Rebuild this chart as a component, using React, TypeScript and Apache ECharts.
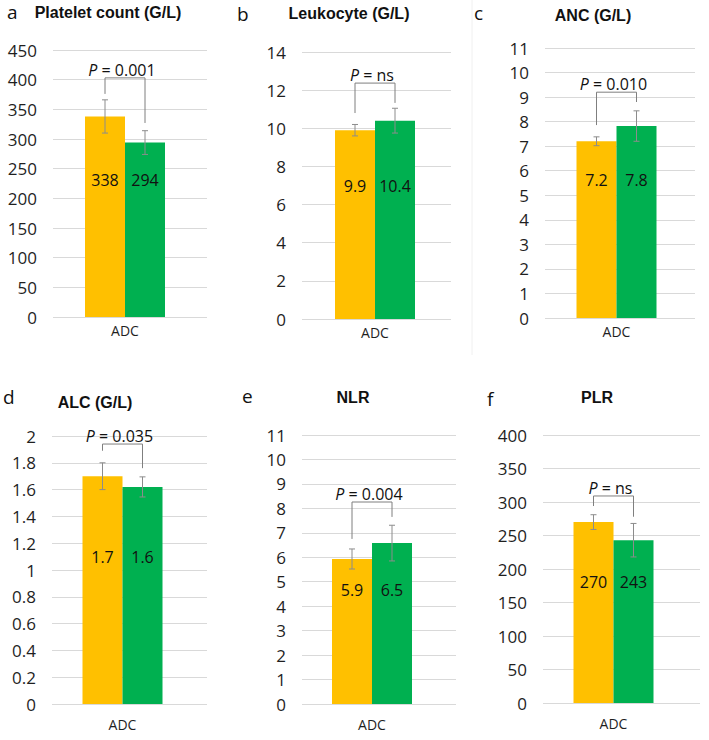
import React, { useEffect, useRef } from "react";
import * as echarts from "echarts";

// ---- data ----
const categories = ["ADC"];
const panelLetters = ["a", "b", "c", "d", "e", "f"];
const panelTitles = ["Platelet count (G/L)", "Leukocyte (G/L)", "ANC (G/L)", "ALC (G/L)", "NLR", "PLR"];
const yMax = [450, 14, 11, 2, 11, 400];
const yInterval = [50, 2, 1, 0.2, 1, 50];
const yellowValues = [338, 9.9, 7.2, 1.7, 5.93, 270];
const greenValues = [294, 10.4, 7.82, 1.62, 6.58, 243];
const yellowLabels = ["338", "9.9", "7.2", "1.7", "5.9", "270"];
const greenLabels = ["294", "10.4", "7.8", "1.6", "6.5", "243"];
const yellowErrors = [28, 0.3, 0.18, 0.1, 0.41, 11];
const greenErrors = [20, 0.65, 0.62, 0.075, 0.73, 25];
const pValues = ["0.001", "ns", "0.010", "0.035", "0.004", "ns"];
const bracketTop = [403, 12.37, 9.2, 1.94, 8.26, 309];
const bracketLeftEnd = [376, 10.8, 7.86, 1.89, 6.75, 294];
const bracketRightEnd = [327, 11.33, 8.8, 1.76, 7.65, 278];
const labelLevel = [231, 6.97, 5.62, 1.1, 4.66, 180];

// ---- layout (pixels) ----
const layouts = [
  { gl: 53, gr: 207, top: 50, bottom: 317, bc: 125, xm: 6, lx: 7, ly: 12, tx: 108, ty: 12 },
  { gl: 302, gr: 451, top: 52, bottom: 319, bc: 375, xm: 6, lx: 237, ly: 14, tx: 349, ty: 13 },
  { gl: 545, gr: 695, top: 48, bottom: 318, bc: 616.5, xm: 6, lx: 474, ly: 13, tx: 593, ty: 15 },
  { gl: 52, gr: 207, top: 436, bottom: 704, bc: 122.5, xm: 13, lx: 3, ly: 397, tx: 95, ty: 402 },
  { gl: 302, gr: 456, top: 435, bottom: 704, bc: 372, xm: 13, lx: 242, ly: 396, tx: 353, ty: 397 },
  { gl: 543, gr: 700, top: 435, bottom: 703, bc: 613.5, xm: 13, lx: 487, ly: 399, tx: 597, ty: 397 },
];

const FONT = "'Open Sans', 'Liberation Sans', Arial, sans-serif";
const TITLE_FONT = "'Liberation Sans', Arial, sans-serif";
const YELLOW = "#FFC000";
const GREEN = "#00B050";
const BAR_W = 40;
const TEXT = "#1f1f1f";

export default function App() {
  const ref = useRef<HTMLDivElement>(null);
  useEffect(() => {
    const chart = echarts.init(ref.current!, null, { renderer: "svg" });
    const grid: any[] = [];
    const xAxis: any[] = [];
    const yAxis: any[] = [];
    const series: any[] = [];
    const graphic: any[] = [];

    layouts.forEach((L, i) => {
      const hw = Math.min(L.bc - L.gl, L.gr - L.bc);
      const bg = 2 * i;
      const fg = 2 * i + 1;
      const h = L.bottom - L.top;
      grid.push({ left: L.gl, top: L.top, width: L.gr - L.gl, height: h, outerBoundsMode: "none" });
      grid.push({ left: L.bc - hw, top: L.top, width: 2 * hw, height: h, outerBoundsMode: "none" });
      xAxis.push({ type: "category", gridIndex: bg, data: categories, show: false });
      xAxis.push({
        type: "category",
        gridIndex: fg,
        data: categories,
        axisLine: { show: false },
        axisTick: { show: false },
        axisLabel: { margin: L.xm, fontSize: 14, fontFamily: FONT, color: TEXT },
      });
      yAxis.push({
        type: "value",
        gridIndex: bg,
        min: 0,
        max: yMax[i],
        interval: yInterval[i],
        axisLine: { show: false },
        axisTick: { show: false },
        axisLabel: { margin: 16, fontSize: 17, fontFamily: FONT, color: TEXT },
        splitLine: { show: true, lineStyle: { color: "#d9d9d9", width: 1 } },
      });
      yAxis.push({ type: "value", gridIndex: fg, min: 0, max: yMax[i], interval: yInterval[i], show: false });

      series.push({
        type: "bar",
        xAxisIndex: fg,
        yAxisIndex: fg,
        data: [yellowValues[i]],
        barWidth: BAR_W,
        barGap: "0%",
        itemStyle: { color: YELLOW },
        silent: true,
      });
      series.push({
        type: "bar",
        xAxisIndex: fg,
        yAxisIndex: fg,
        data: [greenValues[i]],
        barWidth: BAR_W,
        barGap: "0%",
        itemStyle: { color: GREEN },
        silent: true,
      });

      // error bars + value labels
      series.push({
        type: "custom",
        xAxisIndex: fg,
        yAxisIndex: fg,
        z: 5,
        silent: true,
        data: [
          [0, yellowValues[i], yellowErrors[i], -1],
          [0, greenValues[i], greenErrors[i], 1],
        ],
        renderItem: (params: any, api: any) => {
          const side = api.value(3);
          const v = api.value(1);
          const e = api.value(2);
          const c = api.coord([api.value(0), v]);
          const x = c[0] + (side * BAR_W) / 2;
          const yTop = api.coord([0, v + e])[1];
          const yBot = api.coord([0, v - e])[1];
          const yLab = api.coord([0, labelLevel[i]])[1];
          const text = (side < 0 ? yellowLabels : greenLabels)[i];
          const st = { stroke: "#8c8c8c", lineWidth: 1 };
          return {
            type: "group",
            children: [
              { type: "line", shape: { x1: x, y1: yTop, x2: x, y2: yBot }, style: st },
              { type: "line", shape: { x1: x - 3, y1: yTop, x2: x + 3, y2: yTop }, style: st },
              { type: "line", shape: { x1: x - 3, y1: yBot, x2: x + 3, y2: yBot }, style: st },
              {
                type: "text",
                x,
                y: yLab,
                style: {
                  text,
                  fill: "#111",
                  fontSize: 16,
                  fontFamily: FONT,
                  textAlign: "center",
                  textVerticalAlign: "middle",
                },
              },
            ],
          };
        },
      });

      // significance bracket
      series.push({
        type: "custom",
        xAxisIndex: fg,
        yAxisIndex: fg,
        z: 6,
        silent: true,
        data: [[0, bracketTop[i], bracketLeftEnd[i], bracketRightEnd[i]]],
        renderItem: (params: any, api: any) => {
          const c = api.coord([api.value(0), api.value(1)]);
          const xL = c[0] - BAR_W / 2;
          const xR = c[0] + BAR_W / 2;
          const yT = c[1];
          const yL = api.coord([0, api.value(2)])[1];
          const yR = api.coord([0, api.value(3)])[1];
          return {
            type: "group",
            children: [
              {
                type: "polyline",
                shape: { points: [[xL, yL], [xL, yT], [xR, yT], [xR, yR]] },
                style: { stroke: "#7f7f7f", lineWidth: 1, fill: null },
              },
              {
                type: "text",
                x: c[0] - 3,
                y: yT - 8,
                style: {
                  text: "{i|P} = " + pValues[i],
                  fill: "#111",
                  fontSize: 16,
                  fontFamily: FONT,
                  textAlign: "center",
                  textVerticalAlign: "middle",
                  rich: {
                    i: { fontStyle: "italic", fontSize: 16, fontFamily: FONT, fill: "#111" },
                  },
                },
              },
            ],
          };
        },
      });

      graphic.push({
        type: "text",
        x: L.lx,
        y: L.ly,
        style: {
          text: panelLetters[i],
          fill: "#111",
          fontSize: 19,
          fontFamily: FONT,
          textAlign: "left",
          textVerticalAlign: "middle",
        },
      });
      graphic.push({
        type: "text",
        x: L.tx,
        y: L.ty,
        style: {
          text: panelTitles[i],
          fill: "#111",
          fontSize: 16,
          fontWeight: "bold",
          fontFamily: TITLE_FONT,
          textAlign: "center",
          textVerticalAlign: "middle",
        },
      });
    });

    graphic.push({
      type: "line",
      shape: { x1: 472, y1: 0, x2: 472, y2: 355 },
      style: { stroke: "#f0f0f0", lineWidth: 1 },
    });

    chart.setOption({
      animation: false,
      backgroundColor: "#ffffff",
      grid,
      xAxis,
      yAxis,
      series,
      graphic,
    });
    return () => chart.dispose();
  }, []);

  return (
    <div
      ref={ref}
      style={{ position: "fixed", left: 0, top: 0, width: 709, height: 740, background: "#fff" }}
    />
  );
}
